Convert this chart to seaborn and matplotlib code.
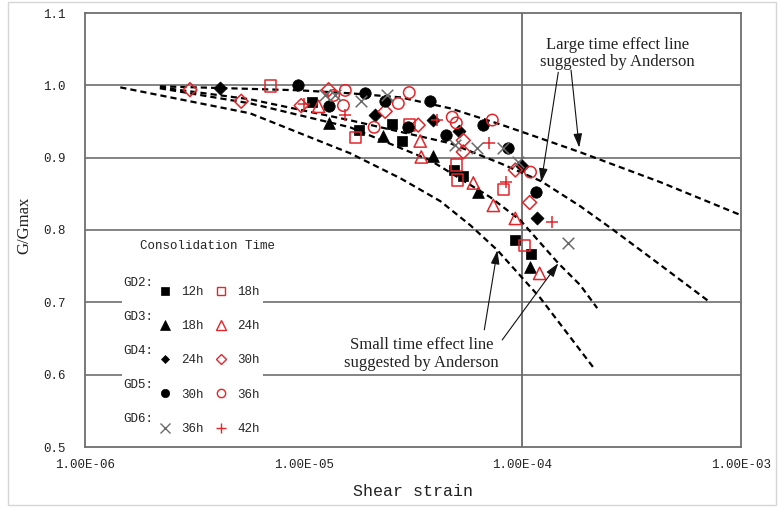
import matplotlib
matplotlib.use("Agg")
import matplotlib.pyplot as plt
from matplotlib.lines import Line2D
from matplotlib.patches import Rectangle
import seaborn as sns

# ---------------- data ----------------
gd2_12h_x = [1.09e-5, 1.80e-5, 2.54e-5, 2.82e-5, 4.89e-5, 5.37e-5, 9.29e-5, 1.10e-4]
gd2_12h_y = [0.977, 0.938, 0.946, 0.923, 0.883, 0.874, 0.786, 0.767]
gd2_18h_x = [7.03e-6, 1.72e-5, 3.04e-5, 4.99e-5, 5.04e-5, 8.19e-5, 1.02e-4]
gd2_18h_y = [0.999, 0.928, 0.945, 0.890, 0.869, 0.856, 0.779]
gd3_18h_x = [1.30e-5, 2.30e-5, 3.91e-5, 6.29e-5, 1.08e-4]
gd3_18h_y = [0.948, 0.930, 0.902, 0.852, 0.749]
gd3_24h_x = [1.17e-5, 3.41e-5, 3.45e-5, 5.97e-5, 7.37e-5, 9.29e-5, 1.20e-4]
gd3_24h_y = [0.971, 0.923, 0.901, 0.865, 0.834, 0.816, 0.740]
gd4_24h_x = [4.15e-6, 2.12e-5, 3.91e-5, 5.15e-5, 1.00e-4, 1.17e-4]
gd4_24h_y = [0.996, 0.959, 0.952, 0.937, 0.888, 0.816]
gd4_30h_x = [3.02e-6, 5.18e-6, 9.74e-6, 1.30e-5, 2.36e-5, 3.34e-5, 5.37e-5, 5.37e-5, 9.29e-5, 1.08e-4]
gd4_30h_y = [0.994, 0.978, 0.972, 0.994, 0.964, 0.945, 0.924, 0.908, 0.883, 0.838]
gd5_30h_x = [9.44e-6, 1.31e-5, 1.91e-5, 2.36e-5, 3.01e-5, 3.79e-5, 4.49e-5, 6.63e-5, 8.63e-5, 1.16e-4]
gd5_30h_y = [1.000, 0.972, 0.990, 0.978, 0.942, 0.978, 0.931, 0.945, 0.914, 0.852]
gd5_36h_x = [1.37e-5, 1.55e-5, 1.52e-5, 2.10e-5, 2.71e-5, 3.04e-5, 4.78e-5, 4.99e-5, 7.29e-5, 1.09e-4]
gd5_36h_y = [0.986, 0.993, 0.972, 0.942, 0.975, 0.990, 0.956, 0.948, 0.952, 0.880]
gd6_36h_x = [1.25e-5, 1.39e-5, 1.83e-5, 2.41e-5, 4.94e-5, 6.22e-5, 8.19e-5, 9.59e-5, 1.62e-4]
gd6_36h_y = [0.986, 0.986, 0.978, 0.986, 0.917, 0.914, 0.914, 0.894, 0.782]
gd6_42h_x = [1.00e-5, 1.55e-5, 4.08e-5, 7.06e-5, 8.45e-5, 1.36e-4]
gd6_42h_y = [0.974, 0.959, 0.952, 0.920, 0.866, 0.811]

# Anderson reference lines
large_upper_x = [2.2e-6, 4.6e-6, 9.6e-6, 1.63e-5, 2.77e-5, 4.68e-5, 7.92e-5, 1.21e-4, 1.84e-4, 4.29e-4, 9.75e-4]
large_upper_y = [0.9986, 0.9959, 0.9931, 0.989, 0.9834, 0.9682, 0.9461, 0.9268, 0.9075, 0.866, 0.8218]
large_lower_x = [2.2e-6, 5.69e-6, 1.63e-5, 4.68e-5, 7.92e-5, 1.22e-4, 1.84e-4, 2.58e-4, 4.29e-4, 7.10e-4]
large_lower_y = [0.9972, 0.9807, 0.9517, 0.9199, 0.8923, 0.8674, 0.8329, 0.8011, 0.7514, 0.7017]
small_upper_x = [2.2e-6, 5.69e-6, 1.63e-5, 3.79e-5, 7.14e-5, 9.79e-5, 1.46e-4, 1.84e-4, 2.20e-4]
small_upper_y = [0.9959, 0.9751, 0.942, 0.8964, 0.8453, 0.8135, 0.7541, 0.7238, 0.6920]
small_lower_x = [1.45e-6, 5.69e-6, 1.63e-5, 2.77e-5, 4.22e-5, 5.78e-5, 7.69e-5, 1.21e-4, 2.14e-4]
small_lower_y = [0.9972, 0.9613, 0.9061, 0.8715, 0.8398, 0.8066, 0.7721, 0.7058, 0.6077]

x_ticks = [1e-6, 1e-5, 1e-4, 1e-3]
x_tick_labels = ["1.00E-06", "1.00E-05", "1.00E-04", "1.00E-03"]
y_ticks = [0.5, 0.6, 0.7, 0.8, 0.9, 1.0, 1.1]
y_tick_labels = ["0.5", "0.6", "0.7", "0.8", "0.9", "1.0", "1.1"]
group_labels = ["GD2:", "GD3:", "GD4:", "GD5:", "GD6:"]
black_labels = ["12h", "18h", "24h", "30h", "36h"]
red_labels = ["18h", "24h", "30h", "36h", "42h"]

# ---------------- styling ----------------
RED = "#e3262b"
GRAY = "#6a6a6a"
FRAME = "#6e6e6e"

sns.set_theme(style="white")
plt.rcParams['font.family'] = ['Liberation Mono', 'DejaVu Sans Mono']

fig = plt.figure(figsize=(7.81, 5.07), dpi=100)
ax = fig.add_axes([85 / 781, 1 - 447 / 507, 656 / 781, 434 / 507])
ax.set_xscale("log")
ax.set_xlim(1e-6, 1e-3)
ax.set_ylim(0.5, 1.1)

# grid
for yv in [0.6, 0.7, 0.8, 0.9, 1.0]:
    ax.axhline(yv, color="#7a7a7a", lw=1.3, zorder=0.5)
ax.axvline(1e-4, color="#6a6a6a", lw=1.3, zorder=0.5)

# white box behind legend
ax.add_patch(Rectangle((37 / 656, 2 / 434), 141 / 656, 213 / 434, transform=ax.transAxes,
                       facecolor="white", edgecolor="none", zorder=1))

# reference lines
for cx, cy in [(large_upper_x, large_upper_y), (large_lower_x, large_lower_y),
               (small_upper_x, small_upper_y), (small_lower_x, small_lower_y)]:
    sns.lineplot(x=cx, y=cy, ax=ax, color="black", lw=1.6, linestyle=(0, (2.8, 1.8)),
                 sort=False, estimator=None, zorder=2)

# data points
series = [
    (gd2_12h_x, gd2_12h_y, "s", True, "black", 62),
    (gd2_18h_x, gd2_18h_y, "s", False, RED, 66),
    (gd3_18h_x, gd3_18h_y, "^", True, "black", 72),
    (gd3_24h_x, gd3_24h_y, "^", False, RED, 78),
    (gd4_24h_x, gd4_24h_y, "D", True, "black", 44),
    (gd4_30h_x, gd4_30h_y, "D", False, RED, 50),
    (gd5_30h_x, gd5_30h_y, "o", True, "black", 68),
    (gd5_36h_x, gd5_36h_y, "o", False, RED, 68),
    (gd6_36h_x, gd6_36h_y, "x", None, GRAY, 70),
    (gd6_42h_x, gd6_42h_y, "+", None, RED, 70),
]
for sx, sy, mk, filled, col, size in series:
    if filled is True:
        sns.scatterplot(x=sx, y=sy, ax=ax, marker=mk, s=size, color=col, edgecolor=col,
                        linewidth=0.5, zorder=3, legend=False)
    elif filled is False:
        sns.scatterplot(x=sx, y=sy, ax=ax, marker=mk, s=size, facecolors="none",
                        edgecolors=col, linewidth=1.1, zorder=3, legend=False)
    else:
        sns.scatterplot(x=sx, y=sy, ax=ax, marker=mk, s=size, color=col,
                        linewidth=1.1, zorder=3, legend=False)

# axes styling
for sp in ax.spines.values():
    sp.set_color(FRAME)
    sp.set_linewidth(1.3)
ax.set_xticks(x_ticks)
ax.set_xticklabels(x_tick_labels)
ax.xaxis.set_minor_locator(matplotlib.ticker.NullLocator())
ax.set_yticks(y_ticks)
ax.set_yticklabels(y_tick_labels)
ax.tick_params(axis="x", direction="in", length=4, width=1, color=FRAME, pad=9,
               labelsize=9, labelcolor="#222222")
ax.tick_params(axis="y", length=0, pad=14, labelsize=9, labelcolor="#222222")
ax.set_xlabel("Shear strain", fontsize=12, color="#222222")
ax.xaxis.set_label_coords(0.5, -0.085)
ax.set_ylabel("G/Gmax", fontsize=12, color="#222222", family=["Liberation Serif"])
ax.yaxis.set_label_coords(-0.08, 0.51)

# legend
hb = [Line2D([], [], linestyle="none", marker=m, markersize=ms, markerfacecolor=c,
             markeredgecolor=c, markeredgewidth=mew)
      for m, c, ms, mew in [("s", "black", 6, 0.5), ("^", "black", 6.5, 0.5), ("D", "black", 4.5, 0.5),
                            ("o", "black", 6, 0.5), ("x", GRAY, 6.5, 1.0)]]
hr = [Line2D([], [], linestyle="none", marker=m, markersize=ms, markerfacecolor=fc,
             markeredgecolor=RED, markeredgewidth=1.0)
      for m, fc, ms in [("s", "none", 6), ("^", "none", 6.5), ("D", "none", 5),
                        ("o", "none", 6), ("+", RED, 7)]]
leg = ax.legend(hb + hr, black_labels + red_labels, ncol=2, loc="upper left",
                bbox_to_anchor=(0.112, 0.371), frameon=False, fontsize=9,
                handlelength=1.0, handletextpad=0.8, columnspacing=0.9,
                labelspacing=1.78, borderpad=0, borderaxespad=0)
leg.set_zorder(4)
ax.text(0.186, 0.463, "Consolidation Time", transform=ax.transAxes, fontsize=9,
        ha="center", va="center", color="#222222", zorder=4)
for i, g in enumerate(group_labels):
    ax.text(38 / 656, (447 - 283 - 34 * i) / 434, g, transform=ax.transAxes, fontsize=9,
            ha="left", va="center", color="#222222", zorder=4)

# annotations
serif = ["Liberation Serif", "DejaVu Serif"]
ax.text(2.72e-4, 1.044, "Large time effect line\nsuggested by Anderson", fontsize=12,
        ha="center", va="center", family=serif, color="#222222", linespacing=1.1, zorder=4)
ax.text(3.45e-5, 0.6285, "Small time effect line\nsuggested by Anderson", fontsize=12,
        ha="center", va="center", family=serif, color="#222222", linespacing=1.1, zorder=4)
arrow = dict(arrowstyle="-|>,head_length=0.7,head_width=0.22", color="#111111", lw=0.8,
             shrinkA=0, shrinkB=0)
ax.annotate("", xy=(1.22e-4, 0.866), xytext=(1.46e-4, 1.018), arrowprops=arrow, zorder=4)
ax.annotate("", xy=(1.82e-4, 0.914), xytext=(1.67e-4, 1.021), arrowprops=arrow, zorder=4)
ax.annotate("", xy=(7.69e-5, 0.772), xytext=(6.70e-5, 0.662), arrowprops=arrow, zorder=4)
ax.annotate("", xy=(1.46e-4, 0.754), xytext=(8.09e-5, 0.648), arrowprops=arrow, zorder=4)

# light figure border
fig.patches.append(Rectangle((8 / 781, 2 / 507), 768 / 781, 503 / 507, transform=fig.transFigure,
                             fill=False, edgecolor="#d6d6d6", lw=1))

fig.savefig("out.png", dpi=100)
